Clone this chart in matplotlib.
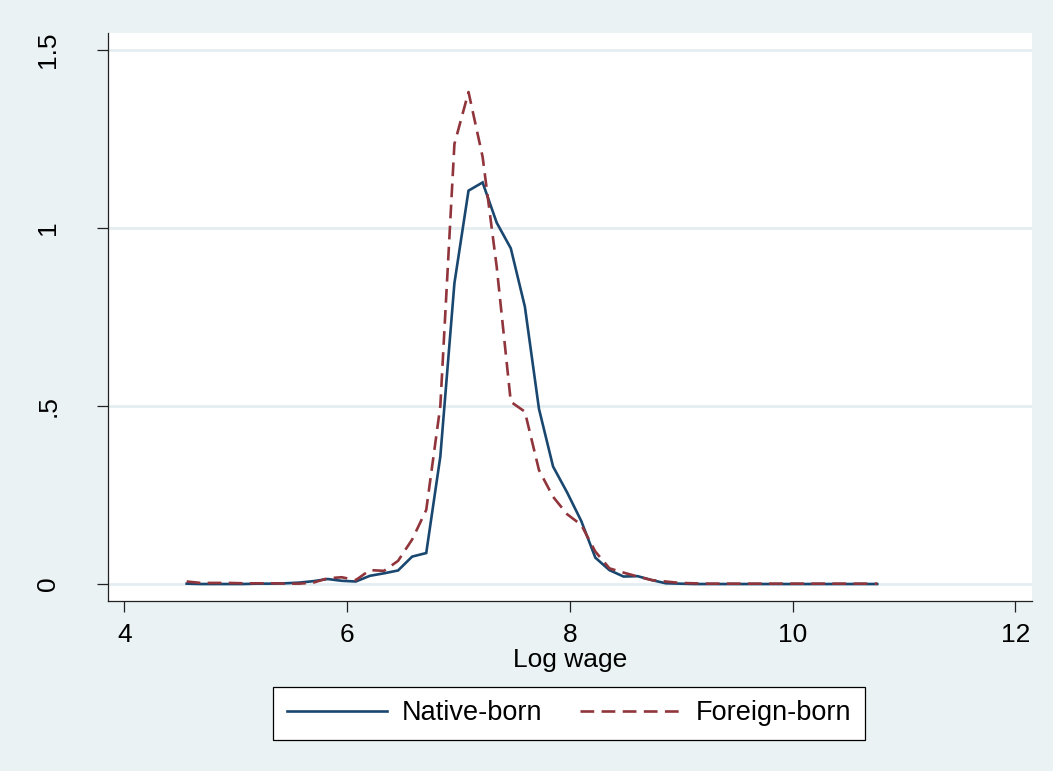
import numpy as np
import matplotlib
matplotlib.use("Agg")
import matplotlib.pyplot as plt

# ---- data ----
x_start, x_end, n_points = 4.56, 10.76, 50
log_wage = np.linspace(x_start, x_end, n_points)

native_born = [0.001, 0.000, 0.000, 0.000, 0.000, 0.001, 0.001, 0.002, 0.004, 0.008,
               0.014, 0.009, 0.007, 0.023, 0.030, 0.038, 0.077, 0.087, 0.358, 0.845,
               1.105, 1.128, 1.015, 0.943, 0.779, 0.492, 0.330, 0.257, 0.177, 0.074,
               0.039, 0.021, 0.022, 0.011, 0.002, 0.001, 0.000, 0.000, 0.000, 0.000,
               0.000, 0.000, 0.000, 0.000, 0.000, 0.000, 0.000, 0.000, 0.000, 0.000]

foreign_born = [0.007, 0.003, 0.003, 0.003, 0.002, 0.002, 0.002, 0.001, 0.001, 0.004,
                0.016, 0.019, 0.011, 0.039, 0.037, 0.065, 0.125, 0.208, 0.500, 1.236,
                1.382, 1.200, 0.891, 0.512, 0.484, 0.320, 0.245, 0.196, 0.166, 0.091,
                0.044, 0.032, 0.021, 0.011, 0.007, 0.003, 0.002, 0.001, 0.001, 0.001,
                0.001, 0.001, 0.001, 0.001, 0.001, 0.001, 0.001, 0.001, 0.001, 0.001]

x_ticks = [4, 6, 8, 10, 12]
y_ticks = [0, 0.5, 1, 1.5]
y_tick_labels = ["0", ".5", "1", "1.5"]
series_labels = ["Native-born", "Foreign-born"]
x_label = "Log wage"

# ---- style ----
plt.rcParams["font.family"] = ["Liberation Sans", "DejaVu Sans"]
bg = "#EAF2F3"
grid_c = "#E4EEF0"
navy = "#1A476F"
maroon = "#90353B"

W, H = 1053, 771
fig = plt.figure(figsize=(W / 100, H / 100), dpi=100, facecolor=bg)
ax = fig.add_axes([107.7 / W, 1 - 600.7 / H, (1032 - 107.7) / W, (600.7 - 33.3) / H])
ax.set_facecolor("white")

ax.plot(log_wage, native_born, color=navy, lw=1.9, label=series_labels[0],
        solid_joinstyle="miter", zorder=3)
ax.plot(log_wage, foreign_born, color=maroon, lw=1.9, label=series_labels[1],
        dashes=(5.2, 2.8), zorder=3)

ax.set_xlim(3.851, 12.15)
ax.set_ylim(-0.0469, 1.547)
ax.set_xticks(x_ticks)
ax.set_yticks(y_ticks)
ax.set_yticklabels(y_tick_labels, rotation=90, va="center")

for yv in y_ticks:
    ax.axhline(yv, color=grid_c, lw=2.0, zorder=1)

for s in ["top", "right"]:
    ax.spines[s].set_visible(False)
for s in ["left", "bottom"]:
    ax.spines[s].set_color("#222222")
    ax.spines[s].set_linewidth(0.9)

ax.tick_params(axis="both", direction="out", length=8, width=0.9, color="#222222",
               labelsize=19, labelcolor="black")
ax.tick_params(axis="x", pad=8)
ax.tick_params(axis="y", pad=26)

ax.set_xlabel(x_label, fontsize=19, labelpad=1)

leg = fig.legend(loc="center", bbox_to_anchor=(569 / W, 1 - 713.5 / H), ncol=2,
                 fontsize=19.5, frameon=True, fancybox=False, edgecolor="black",
                 facecolor="white", framealpha=1, handlelength=3.7,
                 handletextpad=0.55, columnspacing=1.4, borderpad=0.5,
                 borderaxespad=0)
leg.get_frame().set_linewidth(0.9)

fig.savefig("out.png", dpi=100, facecolor=bg)
